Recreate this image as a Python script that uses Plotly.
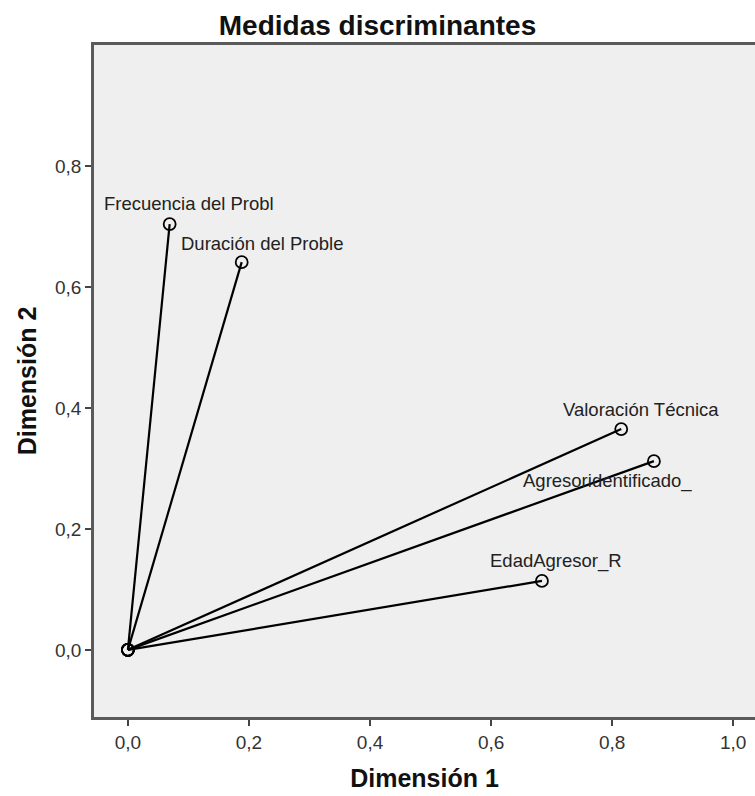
import plotly.graph_objects as go

variables = ["Frecuencia del Probl", "Duración del Proble", "Valoración Técnica",
             "Agresoridentificado_", "EdadAgresor_R"]
dim1 = [0.069, 0.188, 0.815, 0.869, 0.684]
dim2 = [0.704, 0.641, 0.365, 0.312, 0.114]

x_ticks = [0.0, 0.2, 0.4, 0.6, 0.8, 1.0]
y_ticks = [0.0, 0.2, 0.4, 0.6, 0.8]

# pixel offsets of labels relative to their points (style only)
label_shift = [(19, 21), (20, 19), (20, 20), (-46, -20), (14, 20)]

FONT = "Liberation Sans, Arial, sans-serif"
W, H = 755, 796

fig = go.Figure()
for name, x, y in zip(variables, dim1, dim2):
    fig.add_trace(go.Scatter(
        x=[0, x], y=[0, y], mode="lines+markers",
        line=dict(color="black", width=2.2),
        marker=dict(symbol="circle-open", size=12, color="black",
                    line=dict(width=1.8, color="black")),
        hoverinfo="skip", showlegend=False, cliponaxis=False))

for name, x, y, (dx, dy) in zip(variables, dim1, dim2, label_shift):
    fig.add_annotation(x=x, y=y, text=name, showarrow=False,
                       xanchor="center", yanchor="middle",
                       xshift=dx, yshift=dy,
                       font=dict(family=FONT, size=18.5, color="#222"))

fig.update_layout(
    width=W, height=H,
    margin=dict(l=94, r=0, t=45, b=H - 717),
    paper_bgcolor="white", plot_bgcolor="#efefef",
    separators=",.",
    title=dict(text="<b>Medidas discriminantes</b>", x=0.5, xanchor="center",
               y=1 - 25 / H, yanchor="middle",
               font=dict(family=FONT, size=28, color="#111")),
    font=dict(family=FONT),
)
fig.update_xaxes(
    range=[-0.056, 1.036], tickvals=x_ticks, tickformat=".1f",
    showgrid=False, zeroline=False,
    showline=True, mirror=True, linecolor="#5a5a5a", linewidth=2.5,
    ticks="outside", ticklen=6, tickwidth=2, tickcolor="#444",
    tickfont=dict(family=FONT, size=19, color="#333"),
    title=dict(text="<b>Dimensión 1</b>", standoff=18,
               font=dict(family=FONT, size=25, color="#111")),
)
fig.update_yaxes(
    range=[-0.111, 1.0], tickvals=y_ticks, tickformat=".1f",
    showgrid=False, zeroline=False,
    showline=True, mirror=False, linecolor="#5a5a5a", linewidth=2.5,
    ticks="outside", ticklen=6, tickwidth=2, tickcolor="#444",
    tickfont=dict(family=FONT, size=19, color="#333"),
    title=dict(text="<b>Dimensión 2</b>", standoff=12,
               font=dict(family=FONT, size=25, color="#111")),
)

fig.write_html(
    "out.html",
    config={"displayModeBar": False},
    post_script="document.body.style.margin='0';"
                "document.documentElement.style.overflow='hidden';",
)
